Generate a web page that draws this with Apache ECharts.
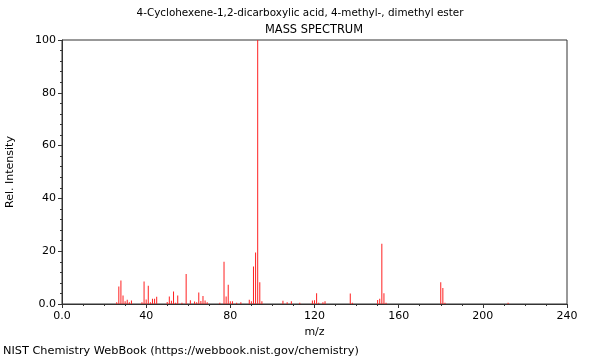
<!DOCTYPE html>
<html>
<head>
<meta charset="utf-8">
<script src="https://cdn.jsdelivr.net/npm/echarts@6/dist/echarts.min.js"></script>
<style>html,body{margin:0;padding:0;background:#fff}#c{width:600px;height:360px}</style>
</head>
<body>
<div id="c"></div>
<script>
const titleText = "4-Cyclohexene-1,2-dicarboxylic acid, 4-methyl-, dimethyl ester";
const subtitleText = "MASS SPECTRUM";
const creditText = "NIST Chemistry WebBook (https://webbook.nist.gov/chemistry)";
const mz = [26,27,28,29,30,31,32,33,38,39,40,41,42,43,44,45,50,51,52,53,54,55,57,59,61,63,64,65,66,67,68,69,75,77,78,79,80,81,83,85,89,90,91,92,93,94,95,105,107,109,113,119,120,121,122,124,125,137,138,150,151,152,153,154,180,181,182,212];
const intensity = [0.7,6.6,8.9,3.2,1.0,1.6,0.7,1.3,0.7,8.5,1.7,6.9,0.7,2.0,2.0,2.7,0.8,2.8,1.2,4.7,0.5,3.2,0.5,11.4,1.4,0.9,0.7,4.4,1.1,3.0,1.3,0.7,0.5,16.0,2.8,7.3,1.0,1.0,0.5,0.7,1.6,1.0,14.2,19.5,100,8.2,1.0,1.2,0.7,1.0,0.5,1.3,1.4,4.1,0.5,0.7,1.0,4.0,0.5,1.5,2.0,22.8,4.1,0.5,8.2,6.1,0.5,0.5];
const xTicks = [0,40,80,120,160,200,240];
const yTicks = [0,20,40,60,80,100];

const chart = echarts.init(document.getElementById('c'), null, {renderer:'canvas'});
const font = 'DejaVu Sans';
chart.setOption({
  animation:false,
  textStyle:{fontFamily:font},
  graphic:[
    {type:'text', x:300, y:8, style:{text:titleText, fontSize:10.4, fill:'#000', fontFamily:font, textAlign:'center', textVerticalAlign:'top'}},
    {type:'text', x:314, y:25, style:{text:subtitleText, fontSize:11.4, fill:'#000', fontFamily:font, textAlign:'center', textVerticalAlign:'top'}},
    {type:'text', left:3, top:346, style:{text:creditText, fontSize:11.3, fill:'#000', fontFamily:font}}
  ],
  grid:{left:62, right:33, top:40, bottom:56, containLabel:false, outerBoundsMode:'none', show:true, borderColor:'#333', borderWidth:1, backgroundColor:'transparent'},
  xAxis:{type:'value', min:xTicks[0], max:xTicks[xTicks.length-1], interval:40,
    name:'m/z', nameLocation:'middle', nameGap:22, nameTextStyle:{fontSize:11, color:'#000'},
    axisLine:{lineStyle:{color:'#333'}}, axisTick:{show:true, length:4, lineStyle:{color:'#333'}},
    minorTick:{show:true, splitNumber:4, length:2, lineStyle:{color:'#333'}},
    splitLine:{show:false},
    axisLabel:{fontSize:11, color:'#000', margin:7, formatter:v=> v===0?'0.0':String(v)}},
  yAxis:{type:'value', min:yTicks[0], max:yTicks[yTicks.length-1], interval:20,
    name:'Rel. Intensity', nameLocation:'middle', nameGap:46, nameRotate:90, nameTextStyle:{fontSize:11, color:'#000'},
    axisLine:{show:true, lineStyle:{color:'#333'}}, axisTick:{show:true, length:4, lineStyle:{color:'#333'}},
    minorTick:{show:true, splitNumber:5, length:2, lineStyle:{color:'#333'}},
    splitLine:{show:false},
    axisLabel:{fontSize:11, color:'#000', margin:6, formatter:v=> v===0?'0.0':String(v)}},
  series:[{type:'bar', barWidth:1, data: mz.map((m,i)=>[m,intensity[i]]), itemStyle:{color:'#ff2020'}, silent:true}]
});
</script>
</body>
</html>
